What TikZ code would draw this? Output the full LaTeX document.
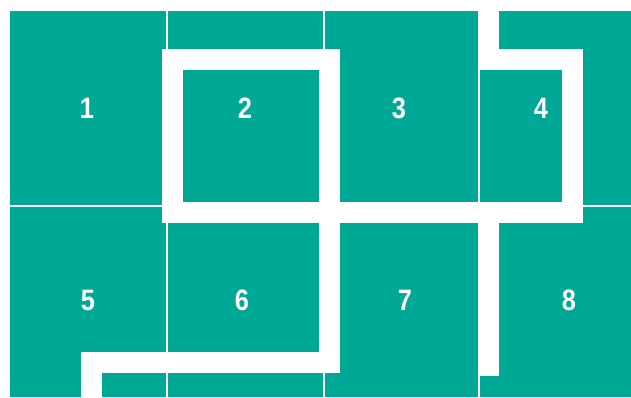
\documentclass[tikz,border=0pt]{standalone}
\usepackage{fontspec}
\usepackage{graphicx}
\setmainfont{Liberation Sans}
\definecolor{teal1}{HTML}{00A896}
\newcommand{\narrowdigit}[1]{\scalebox{0.86}[1]{#1}}
\tikzset{
  gridline/.style={white, line width=1.7pt},
  thickpath/.style={white, line width=21pt, line join=miter, line cap=butt},
  numlabel/.style={text=white, font=\fontsize{29.5}{29.5}\selectfont\bfseries, inner sep=0pt}
}
\begin{document}
\begin{tikzpicture}[x=1pt,y=-1pt]
\useasboundingbox (0,0) rectangle (631,397);
\fill[white] (0,0) rectangle (631,397);
\fill[teal1] (10,11) rectangle (631,397);
% grid
\draw[gridline] (166.8,11) -- (166.8,397);
\draw[gridline] (323.7,11) -- (323.7,397);
\draw[gridline] (479.3,11) -- (479.3,397);
\draw[gridline] (10,206.3) -- (631,206.3);
% thick white paths
\draw[thickpath] (172.5,59.5) rectangle (329,212);
\draw[thickpath] (172.5,212) -- (572.5,212) -- (572.5,59.5) -- (488.6,59.5) -- (488.6,0);
\draw[thickpath] (488.6,201.5) -- (488.6,375.7);
\draw[thickpath] (329,201.5) -- (329,362.5) -- (91.2,362.5) -- (91.2,397);
% labels
\node[numlabel] (n1) at (87,108) {\narrowdigit{1}};
\node[numlabel] (n2) at (245,108) {\narrowdigit{2}};
\node[numlabel] (n3) at (398.8,108) {\narrowdigit{3}};
\node[numlabel] (n4) at (541,108) {\narrowdigit{4}};
\node[numlabel] (n5) at (88,300) {\narrowdigit{5}};
\node[numlabel] (n6) at (242,300) {\narrowdigit{6}};
\node[numlabel] (n7) at (405,300) {\narrowdigit{7}};
\node[numlabel] (n8) at (569,300) {\narrowdigit{8}};
\end{tikzpicture}
\end{document}
